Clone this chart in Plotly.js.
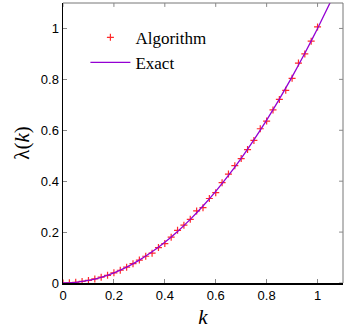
<!DOCTYPE html>
<html>
<head>
<meta charset="utf-8">
<script src="https://cdn.plot.ly/plotly-3.0.1.min.js"></script>
<style>
  html, body { margin:0; padding:0; background:#fff; }
  #chart { width:346px; height:329px; }
</style>
</head>
<body>
<div id="chart"></div>
<script>

/* ==========================================
   DATA
========================================== */

// Algorithm points (red crosses)
const algK = [0, 0.025, 0.05, 0.075, 0.1, 0.125, 0.15, 0.175, 0.2, 0.225,
              0.25, 0.275, 0.3, 0.325, 0.35, 0.375, 0.4, 0.425, 0.45, 0.475,
              0.5, 0.525, 0.55, 0.575, 0.6, 0.625, 0.65, 0.675, 0.7, 0.725,
              0.75, 0.775, 0.8, 0.825, 0.85, 0.875, 0.9, 0.925, 0.95, 0.975, 1.0];

const algLambda = [0, 0.001, 0.003, 0.006, 0.010, 0.016, 0.023, 0.030, 0.040, 0.050,
                   0.062, 0.076, 0.090, 0.105, 0.117, 0.139, 0.155, 0.180, 0.207, 0.227,
                   0.250, 0.283, 0.296, 0.332, 0.355, 0.394, 0.428, 0.461, 0.489, 0.524,
                   0.560, 0.606, 0.636, 0.680, 0.721, 0.757, 0.804, 0.864, 0.900, 0.950, 1.006];

// Exact curve (purple line)
const exactK = [0, 0.05, 0.1, 0.15, 0.2, 0.25, 0.3, 0.35, 0.4, 0.45,
                0.5, 0.55, 0.6, 0.65, 0.7, 0.75, 0.8, 0.85, 0.9, 0.95,
                1.0, 1.05];

const exactLambda = [0, 0.0025, 0.01, 0.0225, 0.04, 0.0625, 0.09, 0.1225, 0.16, 0.2025,
                     0.25, 0.3025, 0.36, 0.4225, 0.49, 0.5625, 0.64, 0.7225, 0.81, 0.9025,
                     1.0, 1.1025];

const xTicks = [0, 0.2, 0.4, 0.6, 0.8, 1];
const xTickLabels = ["0", "0.2", "0.4", "0.6", "0.8", "1"];
const yTicks = [0, 0.2, 0.4, 0.6, 0.8, 1];
const yTickLabels = ["0", "0.2", "0.4", "0.6", "0.8", "1"];


/* ==========================================
   PLOT
========================================== */

const serif = "Liberation Serif";
const sans = "Liberation Sans";

const axisBase = {

    showgrid:false,
    zeroline:false,
    showline:true,
    linecolor:"#000",
    linewidth:1.5,
    mirror:false,
    ticks:"inside",
    ticklen:4,
    tickcolor:"#888",
    tickwidth:1,
    tickfont:{ family:sans, size:13, color:"#000" }

};

// mirror ticks on the top and right edges (grey, like the frame)
const mirrorTicks = [];

xTicks.forEach(v=>{

    mirrorTicks.push({ type:"line", xref:"x", yref:"paper", x0:v, x1:v, y0:1, y1:0.986, line:{ color:"#888", width:1 } });

});

yTicks.forEach(v=>{

    mirrorTicks.push({ type:"line", xref:"paper", yref:"y", x0:1, x1:0.986, y0:v, y1:v, line:{ color:"#888", width:1 } });

});

Plotly.newPlot(

    "chart",

    [

        {

            x:algK,
            y:algLambda,
            mode:"markers",
            name:"Algorithm",
            marker:{
                symbol:"cross-thin",
                size:5,
                line:{ color:"#ff2a2a", width:1.2 },
                color:"#ff2a2a"
            }

        },

        {

            x:exactK,
            y:exactLambda,
            mode:"lines",
            name:"Exact",
            line:{ color:"#9400d3", width:1.3, shape:"spline", smoothing:0.6 }

        }

    ],

    {

        width:346,
        height:329,
        margin:{ l:63, r:3, t:3, b:46 },
        paper_bgcolor:"#fff",
        plot_bgcolor:"#fff",
        showlegend:true,

        legend:{
            x:0.08,
            y:0.94,
            xanchor:"left",
            yanchor:"top",
            bgcolor:"rgba(0,0,0,0)",
            font:{ family:serif, size:17, color:"#000" },
            tracegroupgap:0,
            itemwidth:40
        },

        xaxis:Object.assign({}, axisBase, {
            range:[0, 1.1],
            tickvals:xTicks,
            ticktext:xTickLabels,
            title:{ text:"<i>k</i>", font:{ family:serif, size:21, color:"#000" }, standoff:8 }
        }),

        yaxis:Object.assign({}, axisBase, {
            range:[0, 1.1],
            tickvals:yTicks,
            ticktext:yTickLabels,
            title:{ text:"λ(<i>k</i>)", font:{ family:serif, size:21, color:"#000" }, standoff:5 }
        }),

        shapes:[
            { type:"line", xref:"paper", yref:"paper", x0:0, x1:1, y0:1, y1:1, line:{ color:"#777", width:1 } },
            { type:"line", xref:"paper", yref:"paper", x0:1, x1:1, y0:0, y1:1, line:{ color:"#777", width:1 } }
        ].concat(mirrorTicks)

    },

    {
        displayModeBar:false,
        staticPlot:true
    }

);

</script>
</body>
</html>
